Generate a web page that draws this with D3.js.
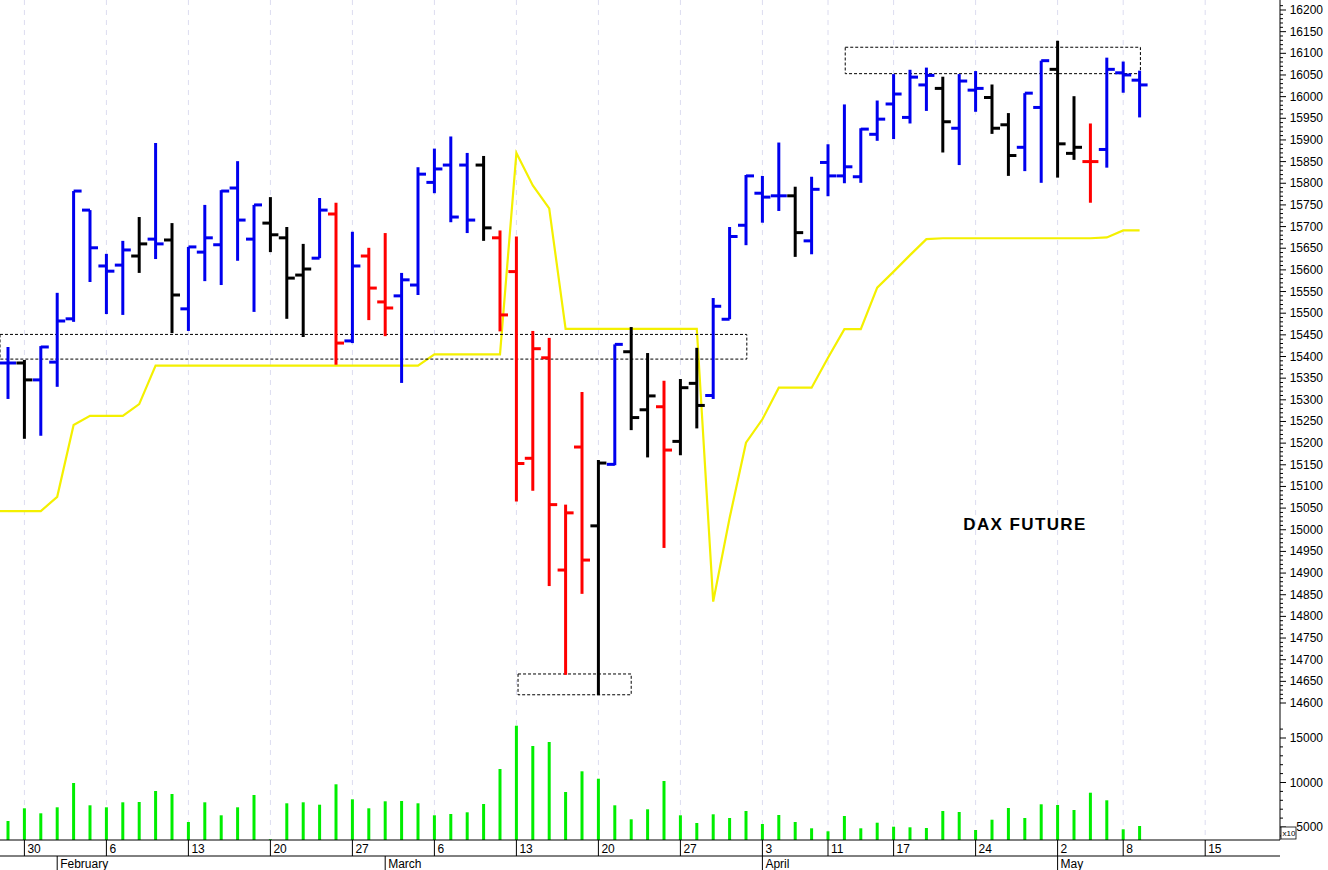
<!DOCTYPE html>
<html><head><meta charset="utf-8">
<script src="https://cdn.jsdelivr.net/npm/d3@7/dist/d3.min.js"></script>
<style>body{margin:0;background:#fff}svg{display:block;font-family:"Liberation Sans",Arial,sans-serif}</style>
</head><body><svg id="c" width="1328" height="870"></svg>
<script>
// trading dates (2023)
const dates = ["01-27","01-30","01-31","02-01","02-02","02-03","02-06","02-07","02-08","02-09","02-10",
"02-13","02-14","02-15","02-16","02-17","02-20","02-21","02-22","02-23","02-24",
"02-27","02-28","03-01","03-02","03-03","03-06","03-07","03-08","03-09","03-10",
"03-13","03-14","03-15","03-16","03-17","03-20","03-21","03-22","03-23","03-24",
"03-27","03-28","03-29","03-30","03-31","04-03","04-04","04-05","04-06",
"04-11","04-12","04-13","04-14","04-17","04-18","04-19","04-20","04-21",
"04-24","04-25","04-26","04-27","04-28","05-02","05-03","05-04","05-05","05-08","05-09",
"05-10","05-11","05-12","05-15"];
const open  = [15385,15385,15346,15387,15487,15738,15609,15611,15632,15671,15669,15510,15641,15658,15789,15671,15708,15674,15588,15627,15729,15436,15632,15526,15540,15565,15802,15842,15842,15842,15674,15596,15165,15397,14907,15191,15009,15151,15411,15277,15284,15204,15338,15310,15486,15703,15777,15771,15771,15667,15848,15817,15815,15913,15983,15952,16027,16019,15927,16015,15998,15935,15883,15975,16063,15869,15850,15878,16055,16038];
const high  = [15422,15392,15424,15547,15782,15738,15637,15667,15722,15893,15708,15653,15750,15784,15851,15750,15768,15699,15660,15766,15755,15688,15651,15685,15593,15837,15880,15908,15870,15863,15691,15677,15459,15443,15058,15318,15161,15428,15468,15408,15344,15348,15420,15535,15699,15819,15817,15894,15792,15815,15890,15982,15927,15991,16052,16062,16067,16046,16052,16059,16028,15962,16008,16083,16129,16001,15938,16090,16081,16060];
const low   = [15302,15210,15217,15330,15480,15572,15498,15496,15593,15625,15454,15459,15574,15565,15621,15503,15641,15487,15445,15627,15381,15431,15484,15447,15339,15542,15777,15710,15685,15667,15458,15065,15090,14870,14665,14852,14618,15149,15230,15167,14958,15172,15234,15302,15486,15657,15709,15736,15630,15636,15770,15800,15801,15898,15902,15938,15967,15871,15842,15965,15914,15817,15828,15801,15813,15854,15755,15836,16009,15952];
const close = [15385,15346,15422,15482,15782,15651,15597,15646,15660,15660,15542,15653,15674,15782,15715,15750,15681,15581,15602,15738,15431,15609,15558,15512,15577,15821,15833,15722,15715,15697,15496,15153,15418,15058,15039,14930,15154,15428,15259,15309,15184,15328,15287,15516,15677,15817,15768,15771,15686,15786,15817,15838,15925,15948,16006,16045,16049,15942,16036,16019,15927,15864,16008,16083,15891,15883,15850,16063,16050,16027];
const barColor = "bkbbbbbbkbkbbbbbkkkbrbrrbbbbbkrrrrrrkbkkrkkbbbbbkbbbbbbbbkbbkkbbkkrbbb".split("");
const stopLine = [15043,15043,15043,15076,15242,15263,15263,15263,15290,15379,15379,15379,15379,15379,15379,15379,15379,15379,15379,15379,15379,15379,15379,15379,15379,15379,15405,15405,15405,15405,15405,15870,15795,15742,15464,15464,15464,15464,15464,15464,15464,15464,15464,14834,15027,15201,15255,15328,15328,15328,15397,15463,15463,15559,15596,15634,15671,15673,15673,15673,15673,15673,15673,15673,15673,15673,15673,15675,15691,15691];
const volume = [5674,7101,6539,7213,9944,7438,7213,7775,7809,9045,8708,5562,7775,6315,7213,8596,3620,7663,7775,7506,9798,8112,7101,7888,7921,7663,6315,6461,6652,7584,11517,16382,14101,14551,8933,11258,10427,7438,5865,6989,10169,6315,5449,6427,6011,6798,5337,6348,5562,4854,4517,6236,4854,5483,5034,4966,4888,6798,6685,4663,5820,7135,6011,7551,7472,6910,8854,8000,4742,5112];
const dayTicks = ["01-30","02-06","02-13","02-20","02-27","03-06","03-13","03-20","03-27","04-03","04-11","04-17","04-24","05-02","05-08","05-15"];
const monthTicks = [["02-01","February"],["03-01","March"],["04-03","April"],["05-02","May"]];
const priceTicks = d3.range(14600, 16201, 50);
const volTicks = [5000, 10000, 15000];
// annotation boxes: [startIdx, endIdx, lowPrice, highPrice]
const boxes = [[-0.5,45.05,15394,15451],[31.1,38.0,14619,14667],[51.05,69.05,16053,16114]];
const title = "DAX FUTURE";

const svg = d3.select("#c");
const x = d3.scaleLinear().domain([0, 69]).range([8, 8 + 16.4*69]);
const y = d3.scaleLinear().domain([14600, 16200]).range([703, 10]);
const yv = d3.scaleLinear().domain([5000, 15000]).range([827, 738]);
const idx = d => dates.indexOf(d);
const AX = 1280, BASE = 840;
const col = {b:"#0000ee", k:"#000000", r:"#ff0000"};

// grid
svg.append("g").selectAll("line").data(dayTicks).join("line")
  .attr("x1", d => x(idx(d))).attr("x2", d => x(idx(d))).attr("y1", 0).attr("y2", BASE)
  .attr("stroke", "#dcdcf0").attr("stroke-dasharray", "5,5");

// volume
svg.append("g").selectAll("line").data(volume).join("line")
  .attr("x1", (d,i) => x(i)).attr("x2", (d,i) => x(i))
  .attr("y1", BASE).attr("y2", d => Math.min(BASE, yv(d)))
  .attr("stroke", "#00ee00").attr("stroke-width", 3);

// stop line
svg.append("path").datum(stopLine)
  .attr("d", d3.line().x((d,i) => x(i)).y(d => y(d)))
  .attr("fill", "none").attr("stroke", "#f4f000").attr("stroke-width", 2.2);
svg.append("line").attr("x1", 0).attr("x2", x(0)).attr("y1", y(stopLine[0])).attr("y2", y(stopLine[0]))
  .attr("stroke", "#f4f000").attr("stroke-width", 2.2);

// boxes
svg.append("g").selectAll("rect").data(boxes).join("rect")
  .attr("x", d => Math.max(0, x(d[0]))).attr("width", d => x(d[1]) - Math.max(0, x(d[0])))
  .attr("y", d => y(d[3])).attr("height", d => y(d[2]) - y(d[3]))
  .attr("fill", "none").attr("stroke", "#000").attr("stroke-width", 1).attr("stroke-dasharray", "3,2");

// OHLC bars
const g = svg.append("g");
dates.slice(0, 70).forEach((d, i) => {
  const c = col[barColor[i]], cx = x(i);
  g.append("line").attr("x1", cx).attr("x2", cx).attr("y1", y(high[i])).attr("y2", y(low[i]))
    .attr("stroke", c).attr("stroke-width", 3);
  g.append("line").attr("x1", cx - 8).attr("x2", cx).attr("y1", y(open[i])).attr("y2", y(open[i]))
    .attr("stroke", c).attr("stroke-width", 3);
  g.append("line").attr("x1", cx).attr("x2", cx + 8).attr("y1", y(close[i])).attr("y2", y(close[i]))
    .attr("stroke", c).attr("stroke-width", 3);
});

// title
svg.append("text").attr("x", 1025).attr("y", 530).attr("text-anchor", "middle")
  .attr("font-size", 17).attr("font-weight", "bold").attr("letter-spacing", 1.4).text(title);

// price axis
svg.append("line").attr("x1", AX).attr("x2", AX).attr("y1", 0).attr("y2", BASE).attr("stroke", "#000");
const ya = svg.append("g").attr("font-size", 12);
d3.range(14600, 16211, 10).forEach(v => {
  ya.append("line").attr("x1", AX).attr("x2", AX + (v % 50 === 0 ? 6 : 3)).attr("y1", y(v)).attr("y2", y(v)).attr("stroke", "#000");
});
ya.selectAll("text").data(priceTicks).join("text")
  .attr("x", 1323).attr("text-anchor", "end").attr("y", d => y(d) + 4).text(d => d);
// volume axis
const va = svg.append("g").attr("font-size", 12);
d3.range(4000, 16001, 1000).forEach(v => {
  if (yv(v) < 720 || yv(v) > BASE) return;
  va.append("line").attr("x1", AX).attr("x2", AX + (v % 5000 === 0 ? 6 : 3)).attr("y1", yv(v)).attr("y2", yv(v)).attr("stroke", "#000");
});
va.selectAll("text").data(volTicks).join("text").attr("x", 1323).attr("text-anchor", "end").attr("y", d => yv(d) + 4).text(d => d);
va.append("rect").attr("x", 1281).attr("y", 827).attr("width", 15).attr("height", 12).attr("fill", "#fff").attr("stroke", "#000").attr("stroke-width", 0.8);
va.append("text").attr("x", 1282.5).attr("y", 836).attr("font-size", 8).text("x10");

// date axis
const xa = svg.append("g").attr("font-size", 12);
xa.append("line").attr("x1", 0).attr("x2", AX).attr("y1", BASE).attr("y2", BASE).attr("stroke", "#000");
xa.append("line").attr("x1", 0).attr("x2", AX).attr("y1", 856).attr("y2", 856).attr("stroke", "#000");
const ext = d3.scaleLinear().domain([0, 1]).range([x(0), x(1)]);
xa.selectAll(".dt").data(dayTicks).join("line")
  .attr("x1", d => ext(idx(d))).attr("x2", d => ext(idx(d))).attr("y1", BASE).attr("y2", 856).attr("stroke", "#000");
xa.selectAll(".dl").data(dayTicks).join("text")
  .attr("x", d => ext(idx(d)) + 3).attr("y", 853).text(d => +d.slice(3));
xa.selectAll(".mt").data(monthTicks).join("line")
  .attr("x1", d => ext(idx(d[0]))).attr("x2", d => ext(idx(d[0]))).attr("y1", 856).attr("y2", 870).attr("stroke", "#000");
xa.selectAll(".ml").data(monthTicks).join("text")
  .attr("x", d => ext(idx(d[0])) + 3).attr("y", 868).text(d => d[1]);
</script></body></html>
